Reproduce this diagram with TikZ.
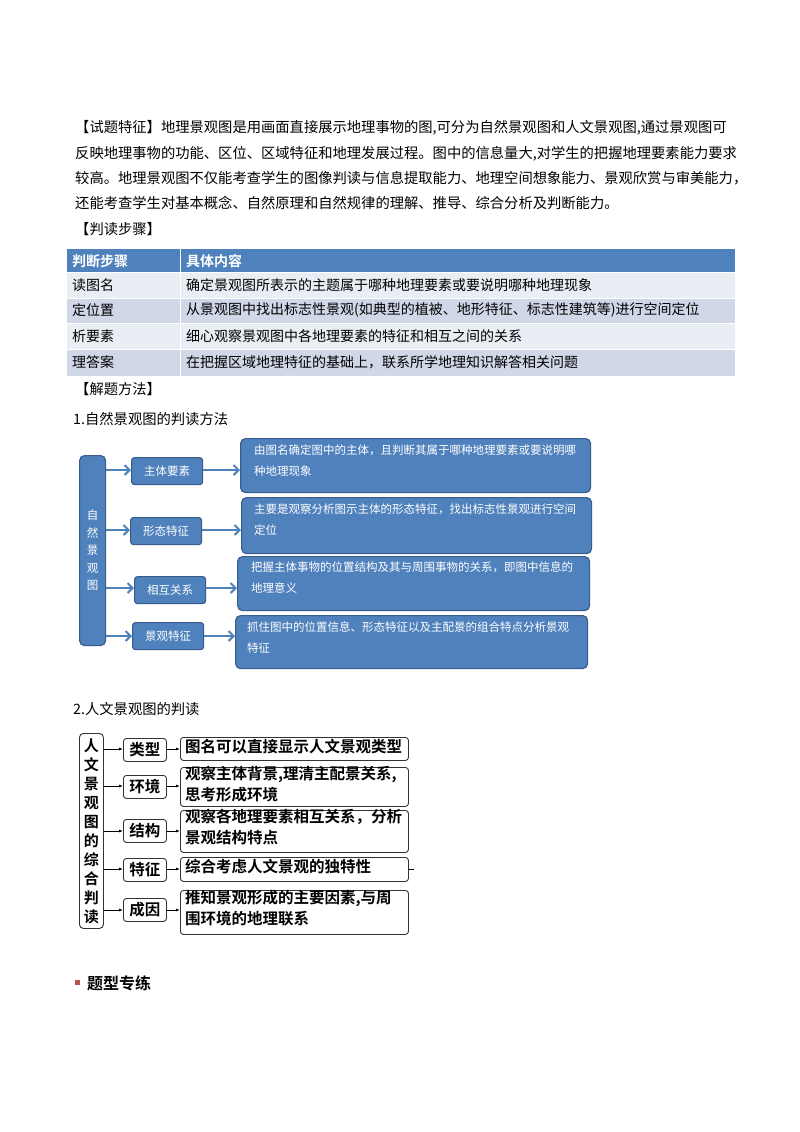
\documentclass[tikz,border=0pt]{standalone}
\usepackage{fontspec}
\setmainfont{Noto Sans CJK SC}
\newfontfamily\cjkb{Noto Sans CJK SC Bold}
\usetikzlibrary{arrows.meta}
\definecolor{hb}{HTML}{4F81BD}
\definecolor{hbd}{HTML}{385D8A}
\definecolor{rl}{HTML}{E9EDF4}
\definecolor{rd}{HTML}{D0D8E8}
\definecolor{red1}{HTML}{C0504D}
\tikzset{
 para/.style={anchor=west,inner sep=0,font=\fontsize{14.3}{16}\selectfont},
 tcell/.style={anchor=west,inner sep=0,font=\fontsize{14}{16}\selectfont},
 bb/.style={draw=hbd,fill=hb,line width=1.2pt,rounded corners=5pt,text=white},
 bt/.style={text=white,align=left,anchor=north west,inner sep=0,font=\fontsize{11.5}{21}\selectfont},
 barr/.style={-{Straight Barb[length=5pt,width=10pt]},draw=hb,line width=2pt},
 wb/.style={draw=black!80,line width=0.9pt,rounded corners=3pt},
 wt/.style={font=\cjkb\fontsize{15.5}{19}\selectfont,inner sep=0},
 karr/.style={-{Latex[length=4pt,width=3pt]},line width=0.8pt},
}
\begin{document}
\begin{tikzpicture}[x=1pt,y=-1pt]
\useasboundingbox (0,0) rectangle (800,1132);
\fill[white] (0,0) rectangle (800,1132);
% paragraph
\node[para] (p1) at (75,128) {【试题特征】地理景观图是用画面直接展示地理事物的图,可分为自然景观图和人文景观图,通过景观图可};
\node[para] (p2) at (75,154) {反映地理事物的功能、区位、区域特征和地理发展过程。图中的信息量大,对学生的把握地理要素能力要求};
\node[para] (p3) at (75,178) {较高。地理景观图不仅能考查学生的图像判读与信息提取能力、地理空间想象能力、景观欣赏与审美能力，};
\node[para] (p4) at (75,203) {还能考查学生对基本概念、自然原理和自然规律的理解、推导、综合分析及判断能力。};
\node[para] (p5) at (75,229) {【判读步骤】};
% table
\fill[hb] (67,249) rectangle (735,272);
\fill[rl] (67,272) rectangle (735,298);
\fill[rd] (67,298) rectangle (735,323);
\fill[rl] (67,323) rectangle (735,349);
\fill[rd] (67,349) rectangle (735,376);
\draw[white,line width=1pt] (180,249) -- (180,376);
\foreach \y in {272,298,323,349} \draw[white,line width=1pt] (67,\y) -- (735,\y);
\node[tcell,text=white,font=\cjkb\fontsize{14}{16}\selectfont] (h1) at (72,261) {判断步骤};
\node[tcell,text=white,font=\cjkb\fontsize{14}{16}\selectfont] (h2) at (186,261) {具体内容};
\node[tcell] (a1) at (72,285) {读图名};
\node[tcell] (b1) at (186,285) {确定景观图所表示的主题属于哪种地理要素或要说明哪种地理现象};
\node[tcell] (a2) at (72,310) {定位置};
\node[tcell] (b2) at (186,310) {从景观图中找出标志性景观(如典型的植被、地形特征、标志性建筑等)进行空间定位};
\node[tcell] (a3) at (72,336) {析要素};
\node[tcell] (b3) at (186,336) {细心观察景观图中各地理要素的特征和相互之间的关系};
\node[tcell] (a4) at (72,362) {理答案};
\node[tcell] (b4) at (186,362) {在把握区域地理特征的基础上，联系所学地理知识解答相关问题};
\node[para] (p6) at (75,389) {【解题方法】};
\node[para] (p7) at (73,419) {1.自然景观图的判读方法};
% diagram 1
\node[bb,minimum width=26pt,minimum height=190pt,anchor=north west,font=\fontsize{11.5}{17.5}\selectfont,align=center,inner sep=0] (L) at (79,455) {自\\然\\景\\观\\图};
\foreach \n/\t/\x/\y in {s1/主体要素/131/457,s2/形态特征/130/517,s3/相互关系/134/576,s4/景观特征/132/622}
  \node[bb,rounded corners=3pt,minimum width=71pt,minimum height=27pt,anchor=north west,font=\fontsize{11.5}{13}\selectfont,inner sep=0] (\n) at (\x,\y) {\t};
\node[bb,minimum width=350pt,minimum height=54pt,anchor=north west] (g1) at (240,438) {};
\node[bb,minimum width=350pt,minimum height=56pt,anchor=north west] (g2) at (241,497) {};
\node[bb,minimum width=352pt,minimum height=54pt,anchor=north west] (g3) at (237,556) {};
\node[bb,minimum width=352pt,minimum height=53pt,anchor=north west] (g4) at (235,615) {};
\node[bt] (t1) at (254,445) {由图名确定图中的主体，且判断其属于哪种地理要素或要说明哪\\种地理现象};
\node[bt] (t2) at (254,504) {主要是观察分析图示主体的形态特征，找出标志性景观进行空间\\定位};
\node[bt] (t3) at (251,562) {把握主体事物的位置结构及其与周围事物的关系，即图中信息的\\地理意义};
\node[bt] (t4) at (247,622) {抓住图中的位置信息、形态特征以及主配景的组合特点分析景观\\特征};
\foreach \i/\y in {1/470,2/530,3/588,4/636}{
  \draw[barr] (L.east|-0,\y) -- (s\i.west|-0,\y);
  \draw[barr] (s\i.east|-0,\y) -- (g\i.west|-0,\y);
}
\node[para] (p8) at (73,709) {2.人文景观图的判读};
% diagram 2
\node[wb,rounded corners=4pt,minimum width=24pt,minimum height=195pt,anchor=north west,align=center,inner sep=0,font=\cjkb\fontsize{15}{19}\selectfont] (M) at (79,733) {人\\文\\景\\观\\图\\的\\综\\合\\判\\读};
\foreach \n/\t/\y in {k1/类型/738,k2/环境/775,k3/结构/819,k4/特征/858,k5/成因/898}
  \node[wb,wt,minimum width=43pt,minimum height=23pt,anchor=north west] (\n) at (123,\y) {\t};
\node[wb,minimum width=228pt,minimum height=23pt,anchor=north west] (r1) at (180,737) {};
\node[wb,minimum width=228pt,minimum height=39pt,anchor=north west] (r2) at (180,767) {};
\node[wb,minimum width=228pt,minimum height=42pt,anchor=north west] (r3) at (180,810) {};
\node[wb,minimum width=228pt,minimum height=24pt,anchor=north west] (r4) at (180,857) {};
\node[wb,minimum width=228pt,minimum height=44pt,anchor=north west] (r5) at (180,890) {};
\tikzset{rt/.style={wt,anchor=north west,align=left,font=\cjkb\fontsize{15.5}{21}\selectfont}}
\node[rt] (u1) at (185,739) {图名可以直接显示人文景观类型};
\node[rt] (u2) at (185,766) {观察主体背景,理清主配景关系,\\思考形成环境};
\node[rt] (u3) at (185,809) {观察各地理要素相互关系，分析\\景观结构特点};
\node[rt] (u4) at (185,859) {综合考虑人文景观的独特性};
\node[rt] (u5) at (185,890) {推知景观形成的主要因素,与周\\围环境的地理联系};
\foreach \i/\y in {1/749,2/786,3/831,4/869,5/910}{
  \draw[karr] (M.east|-0,\y) -- (k\i.west|-0,\y);
  \draw[karr] (k\i.east|-0,\y) -- (r\i.west|-0,\y);
}
\draw[line width=0.6pt] (r4.east) -- ++(5,0);
% footer
\fill[red1] (75,980) rectangle (80,985);
\node[anchor=west,inner sep=0,font=\cjkb\fontsize{16}{19}\selectfont] (ft) at (87,983) {题型专练};
\end{tikzpicture}
\end{document}
